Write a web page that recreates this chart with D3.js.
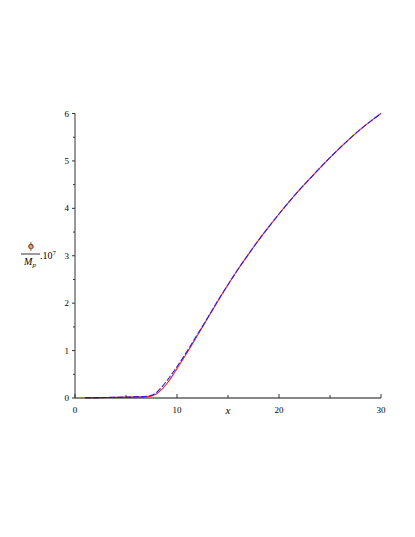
<!DOCTYPE html>
<html><head><meta charset="utf-8">
<script src="https://cdn.jsdelivr.net/npm/d3@7"></script>
<style>body{margin:0;background:#fff}svg{display:block}</style>
</head><body>
<script>
const xs = [1,2,3,4,5,6,7,7.5,8,8.5,9,9.5,10,11,12,13,14,15,16,17,18,19,20,21,22,23,24,25,26,27,28,29,30];
const redY = [0.003,0.006,0.01,0.014,0.018,0.023,0.03,0.045,0.09,0.18,0.3,0.45,0.62,0.96,1.32,1.68,2.04,2.39,2.72,3.03,3.33,3.61,3.88,4.14,4.39,4.62,4.85,5.07,5.28,5.48,5.67,5.84,6.0];
const blueY = [0.004,0.007,0.011,0.015,0.02,0.026,0.036,0.055,0.12,0.23,0.36,0.51,0.66,0.99,1.34,1.69,2.05,2.39,2.72,3.03,3.33,3.61,3.88,4.14,4.39,4.62,4.85,5.07,5.28,5.48,5.67,5.84,6.0];
const xTicks = [0,10,20,30];
const xMinor = [5,15,25];
const yTicks = [0,1,2,3,4,5,6];
const yMinor = [0.5,1.5,2.5,3.5,4.5,5.5];

const W=415,H=537;
const svg=d3.select("body").append("svg").attr("width",W).attr("height",H);
const x=d3.scaleLinear().domain([0,30]).range([75,381]);
const y=d3.scaleLinear().domain([0,6]).range([398,113.5]);
const font="'Liberation Serif', 'Times New Roman', serif";

const line=d3.line().x(d=>x(d[0])).y(d=>y(d[1])).curve(d3.curveMonotoneX);
svg.append("path").datum(xs.map((v,i)=>[v,redY[i]])).attr("d",line)
  .attr("fill","none").attr("stroke","#ff2020").attr("stroke-width",1.1);
svg.append("path").datum(xs.map((v,i)=>[v,blueY[i]])).attr("d",line)
  .attr("fill","none").attr("stroke","#2020ff").attr("stroke-width",1.1).attr("stroke-dasharray","6,2");

// y axis
const ya=svg.append("g");
ya.append("line").attr("x1",75).attr("x2",75).attr("y1",y(0)).attr("y2",y(6)).attr("stroke","#555").attr("stroke-width",1.2);
ya.selectAll(".mj").data(yTicks).enter().append("line").attr("x1",72).attr("x2",75).attr("y1",d=>y(d)).attr("y2",d=>y(d)).attr("stroke","#333");
ya.selectAll(".mn").data(yMinor).enter().append("line").attr("x1",73).attr("x2",75).attr("y1",d=>y(d)).attr("y2",d=>y(d)).attr("stroke","#333");
ya.selectAll("text").data(yTicks).enter().append("text").attr("x",69).attr("y",d=>y(d)+3).attr("text-anchor","end")
  .attr("font-family",font).attr("font-size",9).text(d=>d);

// x axis
const xa=svg.append("g");
xa.append("line").attr("x1",x(0)).attr("x2",x(30)).attr("y1",398).attr("y2",398).attr("stroke","#111").attr("stroke-width",1.2);
xa.selectAll(".mj").data(xTicks).enter().append("line").attr("x1",d=>x(d)).attr("x2",d=>x(d)).attr("y1",398).attr("y2",394).attr("stroke","#333");
xa.selectAll(".mn").data(xMinor).enter().append("line").attr("x1",d=>x(d)).attr("x2",d=>x(d)).attr("y1",398).attr("y2",395).attr("stroke","#333");
xa.selectAll("text").data(xTicks).enter().append("text").attr("x",d=>x(d)).attr("y",413).attr("text-anchor","middle")
  .attr("font-family",font).attr("font-size",9).text(d=>d);

svg.append("text").attr("x",228).attr("y",414).attr("text-anchor","middle").attr("font-family",font)
  .attr("font-style","italic").attr("font-size",11).text("x");

// y label
const lab=svg.append("g").attr("font-family",font);
lab.append("text").attr("x",31).attr("y",249).attr("text-anchor","middle").attr("font-size",11).text("ϕ");
lab.append("line").attr("x1",21).attr("x2",40).attr("y1",254).attr("y2",254).attr("stroke","#000").attr("stroke-width",0.8);
const mp=lab.append("text").attr("x",30).attr("y",265).attr("text-anchor","middle").attr("font-size",10).attr("font-style","italic");
mp.append("tspan").text("M");
mp.append("tspan").attr("font-size",7).attr("dy",2).text("p");
const ten=lab.append("text").attr("x",40).attr("y",259).attr("font-size",10);
ten.append("tspan").text(".10");
ten.append("tspan").attr("font-size",7).attr("dy",-4).text("7");
</script>
</body></html>
